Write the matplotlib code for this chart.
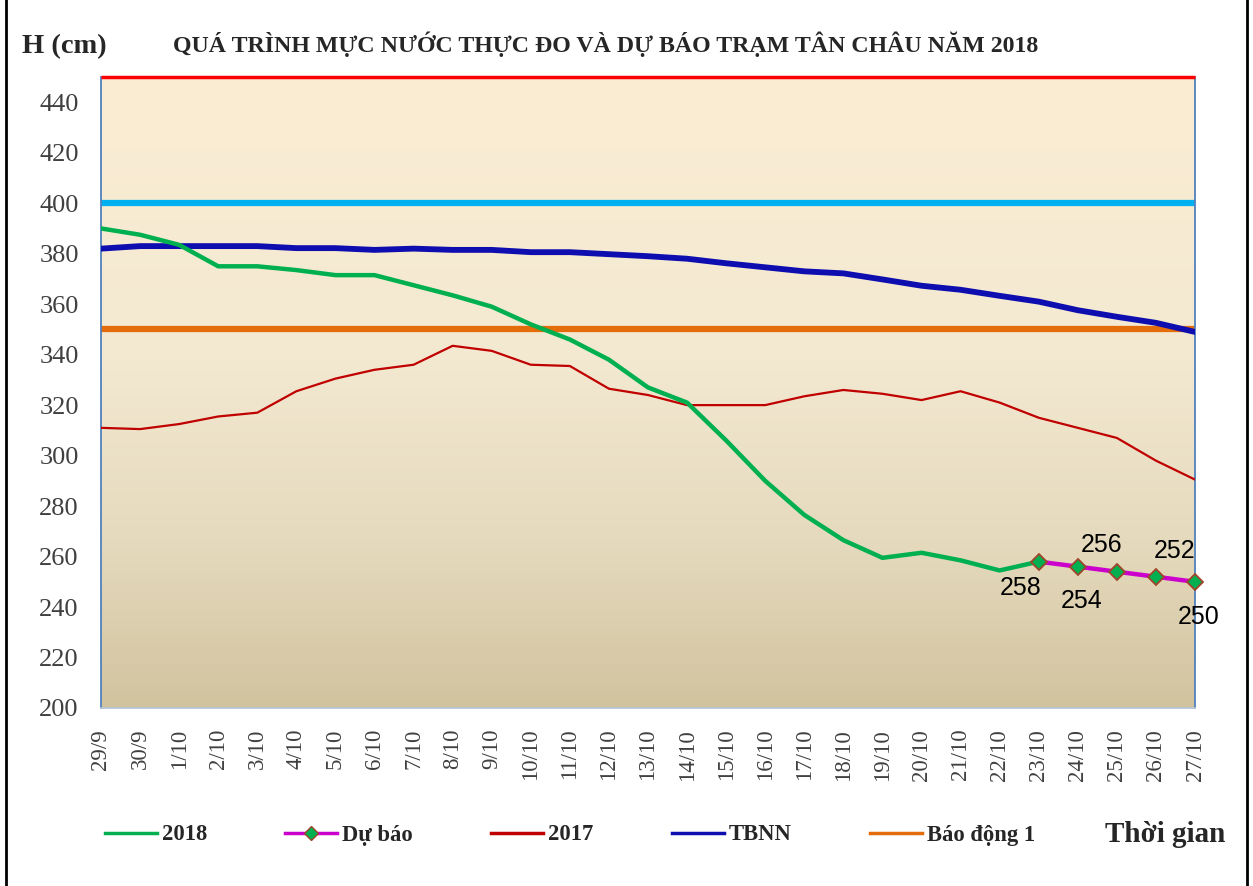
import matplotlib
matplotlib.use('Agg')
import matplotlib.pyplot as plt
import numpy as np
from matplotlib.colors import LinearSegmentedColormap
from matplotlib.lines import Line2D

dates = ['29/9', '30/9', '1/10', '2/10', '3/10', '4/10', '5/10', '6/10', '7/10',
         '8/10', '9/10', '10/10', '11/10', '12/10', '13/10', '14/10', '15/10',
         '16/10', '17/10', '18/10', '19/10', '20/10', '21/10', '22/10', '23/10',
         '24/10', '25/10', '26/10', '27/10']

h2018 = [390, 387.5, 383.5, 375, 375, 373.5, 371.5, 371.5, 367.5, 363.5, 359,
         352, 346, 338, 327, 321, 306, 290, 276.5, 266.5, 259.5, 261.5, 258.5,
         254.5, 258]
forecast = [258, 256, 254, 252, 250]
h2017 = [311, 310.5, 312.5, 315.5, 317, 325.5, 330.5, 334, 336, 343.5, 341.5,
         336, 335.5, 326.5, 324, 320, 320, 320, 323.5, 326, 324.5, 322, 325.5,
         321, 315, 311, 307, 298, 290.5]
tbnn = [382, 383, 383, 383, 383, 382.2, 382.2, 381.5, 382, 381.5, 381.5, 380.6,
        380.6, 379.8, 379, 378, 376.2, 374.6, 373, 372.2, 369.8, 367.3, 365.7,
        363.3, 361, 357.6, 355, 352.6, 349]
bd1 = 350
bd2 = 400
bd3 = 450
yticks = [200, 220, 240, 260, 280, 300, 320, 340, 360, 380, 400, 420, 440]

SERIF = 'Liberation Serif'
W, H = 1253, 886
fig = plt.figure(figsize=(W / 100, H / 100), dpi=100)
fig.patch.set_facecolor('white')
ax = fig.add_axes([101 / W, 1 - 708 / H, (1195 - 101) / W, (708 - 77) / H])

x = np.arange(len(dates))
n18 = len(h2018)
xf = x[n18 - 1:n18 - 1 + len(forecast)]

# gradient background
cmap = LinearSegmentedColormap.from_list(
    'bg', [(0.0, '#D2C39F'), (0.25, '#E4D9BC'), (0.55, '#F3E9D1'), (1.0, '#FBEDD4')])
grad = np.linspace(0, 1, 256).reshape(-1, 1)
ax.imshow(grad, extent=[0, 1, 0, 1], transform=ax.transAxes, aspect='auto',
          cmap=cmap, origin='lower', zorder=0)

ax.set_xlim(x[0], x[-1])
ax.set_ylim(200, 450)

ax.plot(x, [bd2] * len(x), color='#00B0F0', lw=4.5, zorder=2, solid_capstyle='butt')
ax.plot(x, [bd3] * len(x), color='#FF0000', lw=2.5, zorder=5, clip_on=False,
        solid_capstyle='butt')
ax.plot(x, [bd1] * len(x), color='#E46C0A', lw=4.5, zorder=2, solid_capstyle='butt')
ax.plot(x, h2017, color='#C00000', lw=1.6, zorder=3)
ax.plot(x, tbnn, color='#0D0DB0', lw=4.2, zorder=3)
ax.plot(x[:n18], h2018, color='#00B050', lw=3.2, zorder=4)
ax.plot(xf, forecast, color='#CC00CC', lw=3.2, zorder=5, marker='D', ms=8,
        mfc='#00B050', mec='#A0452C', mew=1.3, clip_on=False)

offsets = [(-18, -26), (24, 22), (-35, -29), (19, 26), (4, -35)]
for xi, v, off in zip(xf, forecast, offsets):
    ax.annotate(f'{v:g}', (xi, v), xytext=off, textcoords='offset pixels',
                ha='center', va='center', fontsize=18, family='Liberation Sans',
                color='black', zorder=6, annotation_clip=False)

ax.set_xticks(x)
ax.set_xticklabels(dates, rotation=90, fontsize=16.5, family=SERIF, color='#404040')
ax.set_yticks(yticks)
ax.set_yticklabels([str(t) for t in yticks], fontsize=19, family=SERIF, color='#404040')
ax.tick_params(axis='both', length=0)
ax.tick_params(axis='x', pad=15)
ax.tick_params(axis='y', pad=16)

for s in ['left', 'right']:
    ax.spines[s].set_color('#4F81BD')
    ax.spines[s].set_linewidth(1.3)
ax.spines['bottom'].set_color('#B8C4D6')
ax.spines['bottom'].set_linewidth(1.3)
ax.spines['top'].set_visible(False)

fig.text(22 / W, 1 - 47 / H, 'H (cm)', fontsize=20.5, fontweight='bold', family=SERIF,
         color='#262626', ha='left', va='center')
fig.text(606 / W, 1 - 44 / H,
         'QUÁ TRÌNH MỰC NƯỚC THỰC ĐO VÀ DỰ BÁO TRẠM TÂN CHÂU NĂM 2018',
         fontsize=17.2, fontweight='bold', family=SERIF, color='#262626',
         ha='center', va='center')

handles = [
    Line2D([], [], color='#00B050', lw=2.5),
    Line2D([], [], color='#CC00CC', lw=2.5, marker='D', ms=7, mfc='#00B050',
           mec='#A0452C'),
    Line2D([], [], color='#C00000', lw=2.5),
    Line2D([], [], color='#0D0DB0', lw=2.5),
    Line2D([], [], color='#E46C0A', lw=2.5),
]
labels = ['2018', 'Dự báo', '2017', 'TBNN', 'Báo động 1']
leg = fig.legend(handles, labels, loc='center left', bbox_to_anchor=(105 / W, 1 - 835 / H),
                 ncol=5, frameon=False, borderpad=0, borderaxespad=0, handlelength=2.3,
                 handletextpad=0.22, columnspacing=3.45, numpoints=1,
                 prop={'family': SERIF, 'weight': 'bold', 'size': 16.3})
for t in leg.get_texts():
    t.set_color('#262626')

fig.text(1105 / W, 1 - 835 / H, 'Thời gian', fontsize=21, fontweight='bold',
         family=SERIF, color='#262626', ha='left', va='center')

# outer frame lines
fig.add_artist(Line2D([6 / W, 6 / W], [0, 1], transform=fig.transFigure,
                      color='black', lw=2))
fig.add_artist(Line2D([1247 / W, 1247 / W], [0, 1], transform=fig.transFigure,
                      color='black', lw=2))

fig.savefig('out.png', dpi=100, facecolor='white')
